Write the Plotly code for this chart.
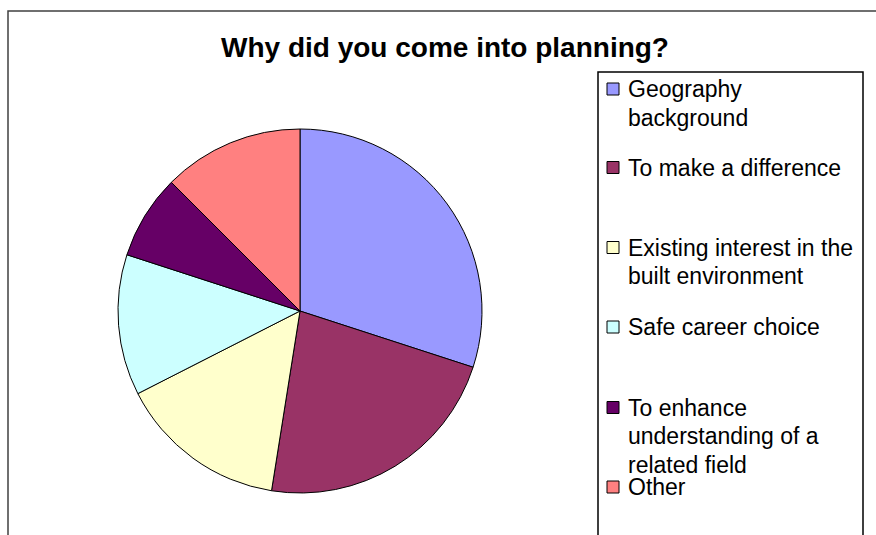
import plotly.graph_objects as go

# ---- data ----
categories = [
    "Geography<br>background",
    "To make a difference",
    "Existing interest in the<br>built environment",
    "Safe career choice",
    "To enhance<br>understanding of a<br>related field",
    "Other",
]
counts = [12, 9, 6, 5, 3, 5]
colors = ["#9999FF", "#993366", "#FFFFCC", "#CCFFFF", "#660066", "#FF8080"]
title_text = "Why did you come into planning?"

W, H = 876, 535
FONT = "Arial, Liberation Sans, sans-serif"

def px(x):
    return x / W

def py(y):
    return 1 - y / H

# pie placement (center 300, 311; radius 182)
cx, cy, r = 300, 311, 182

fig = go.Figure(go.Pie(
    labels=[c.replace("<br>", " ") for c in categories],
    values=counts,
    sort=False,
    direction="clockwise",
    rotation=0,
    marker=dict(colors=colors, line=dict(color="#000000", width=1)),
    textinfo="none",
    hoverinfo="label+percent",
    showlegend=False,
    domain=dict(x=[px(cx - r), px(cx + r)], y=[py(cy + r), py(cy - r)]),
))

shapes = []
annotations = []

# outer chart frame
shapes.append(dict(type="rect", xref="paper", yref="paper",
                   x0=px(8), x1=px(W + 20), y0=py(H + 20), y1=py(11),
                   line=dict(color="#404040", width=1.5), fillcolor="rgba(0,0,0,0)"))
# legend box
shapes.append(dict(type="rect", xref="paper", yref="paper",
                   x0=px(598), x1=px(863), y0=py(H + 20), y1=py(72),
                   line=dict(color="#000000", width=1.5), fillcolor="rgba(0,0,0,0)"))

# legend entries (first-line baselines)
baselines = [97, 175.5, 255.5, 335, 415.5, 495]
LFS = 23
LINE_GAP = 28.5
for lab, col, b in zip(categories, colors, baselines):
    shapes.append(dict(type="rect", xref="paper", yref="paper",
                       x0=px(607), x1=px(619), y0=py(b - 2), y1=py(b - 14),
                       line=dict(color="#000000", width=1), fillcolor=col))
    for i, line in enumerate(lab.split("<br>")):
        bl = b + i * LINE_GAP
        annotations.append(dict(
            text=line, xref="paper", yref="paper",
            x=px(626), y=py(bl - LFS * 0.95 - 1), xanchor="left", yanchor="top",
            align="left", valign="top", showarrow=False,
            font=dict(family=FONT, size=LFS, color="#000000"),
        ))

# title
annotations.append(dict(
    text="<b>" + title_text + "</b>", xref="paper", yref="paper",
    x=px(445), y=py(48), xanchor="center", yanchor="middle", showarrow=False,
    font=dict(family=FONT, size=28, color="#000000"),
))

fig.update_layout(
    width=W, height=H,
    margin=dict(l=0, r=0, t=0, b=0),
    paper_bgcolor="#FFFFFF",
    plot_bgcolor="#FFFFFF",
    shapes=shapes,
    annotations=annotations,
    showlegend=False,
)

fig.write_html("out.html", config={"displayModeBar": False})
